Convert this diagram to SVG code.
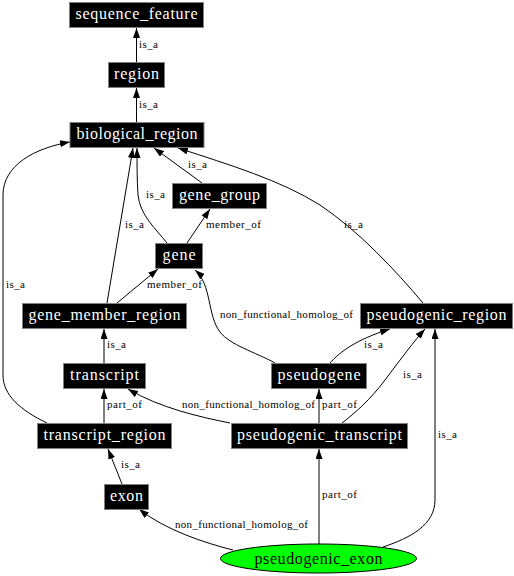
<svg xmlns="http://www.w3.org/2000/svg" width="514" height="576" viewBox="0 0 514 576">
<style>
.node rect{fill:#000;stroke:#808080;stroke-width:1}
.node text{fill:#fff;font-family:"Liberation Serif","Times New Roman",serif;font-size:16px;text-anchor:middle}
.edges path{fill:none;stroke:#000;stroke-width:1;marker-end:url(#arr)}
.lbl{fill:#000;font-family:"Liberation Serif","Times New Roman",serif;font-size:11px}
</style>
<defs>
<marker id="arr" markerUnits="userSpaceOnUse" markerWidth="10" markerHeight="7" refX="10" refY="3.5" orient="auto">
<path d="M0,0 L10,3.5 L0,7 z" fill="#000"/>
</marker>
</defs>
<rect x="0" y="0" width="514" height="576" fill="#fff"/>
<g class="edges" id="connectors">
<path d="M136.5,62 V28"/>
<path d="M136.5,122 V88"/>
<path d="M202,183 L154,148"/>
<path d="M423,303 C395,270 360,232 320,205 C280,180 230,165 178,148"/>
<path d="M167,243 C155,228 140,215 138,195 C137,180 137,165 137,148"/>
<path d="M47,423 C20,410 3,395 3,375 L3,195 C3,165 35,148 70,142"/>
<path d="M107,303 L133,148"/>
<path d="M187,243 L210,209"/>
<path d="M117,303 L158,269"/>
<path d="M275,363 C255,352 230,345 220,332 C207,315 212,285 195,270"/>
<path d="M330,363 C340,352 355,340 390,329"/>
<path d="M104,363 V329"/>
<path d="M104,423 V389"/>
<path d="M230,423 C200,417 160,408 128,389"/>
<path d="M319,423 V389"/>
<path d="M342,423 C355,413 370,400 385,380 C400,360 415,340 425,329"/>
<path d="M122,484 L108,449"/>
<path d="M233,550 C205,543 165,530 139,509"/>
<path d="M319,544 V449"/>
<path d="M383,547 C410,538 435,525 435,500 L435,329"/>
</g>
<g id="edge-labels">
<text class="lbl" x="139" y="48" textLength="19" lengthAdjust="spacing">is_a</text>
<text class="lbl" x="139" y="108" textLength="19" lengthAdjust="spacing">is_a</text>
<text class="lbl" x="188" y="168" textLength="19" lengthAdjust="spacing">is_a</text>
<text class="lbl" x="146" y="198" textLength="19" lengthAdjust="spacing">is_a</text>
<text class="lbl" x="125" y="228" textLength="19" lengthAdjust="spacing">is_a</text>
<text class="lbl" x="344" y="228" textLength="19" lengthAdjust="spacing">is_a</text>
<text class="lbl" x="6" y="288" textLength="19" lengthAdjust="spacing">is_a</text>
<text class="lbl" x="206" y="228" textLength="55" lengthAdjust="spacing">member_of</text>
<text class="lbl" x="147" y="288" textLength="55" lengthAdjust="spacing">member_of</text>
<text class="lbl" x="220" y="318" textLength="133" lengthAdjust="spacing">non_functional_homolog_of</text>
<text class="lbl" x="364" y="348" textLength="19" lengthAdjust="spacing">is_a</text>
<text class="lbl" x="107" y="348" textLength="19" lengthAdjust="spacing">is_a</text>
<text class="lbl" x="403" y="378" textLength="19" lengthAdjust="spacing">is_a</text>
<text class="lbl" x="107" y="408" textLength="35" lengthAdjust="spacing">part_of</text>
<text class="lbl" x="182" y="408" textLength="133" lengthAdjust="spacing">non_functional_homolog_of</text>
<text class="lbl" x="322" y="408" textLength="35" lengthAdjust="spacing">part_of</text>
<text class="lbl" x="438" y="438" textLength="19" lengthAdjust="spacing">is_a</text>
<text class="lbl" x="121" y="468" textLength="19" lengthAdjust="spacing">is_a</text>
<text class="lbl" x="322" y="498" textLength="35" lengthAdjust="spacing">part_of</text>
<text class="lbl" x="175" y="528" textLength="133" lengthAdjust="spacing">non_functional_homolog_of</text>
</g>
<g class="node" id="sequence_feature"><rect x="69.5" y="2.5" width="134" height="25"/><text x="136.5" y="19" textLength="122" lengthAdjust="spacing">sequence_feature</text></g>
<g class="node" id="region"><rect x="108.5" y="62.5" width="56" height="25"/><text x="136.5" y="79" textLength="45" lengthAdjust="spacing">region</text></g>
<g class="node" id="biological_region"><rect x="70" y="122.5" width="134" height="25"/><text x="137" y="139" textLength="121" lengthAdjust="spacing">biological_region</text></g>
<g class="node" id="gene_group"><rect x="172.5" y="183.5" width="94" height="25"/><text x="219.5" y="200" textLength="81" lengthAdjust="spacing">gene_group</text></g>
<g class="node" id="gene"><rect x="155.5" y="243.5" width="47" height="25"/><text x="179" y="260" textLength="33" lengthAdjust="spacing">gene</text></g>
<g class="node" id="pseudogenic_region"><rect x="360.5" y="303.5" width="152" height="25"/><text x="436.5" y="320" textLength="140" lengthAdjust="spacing">pseudogenic_region</text></g>
<g class="node" id="gene_member_region"><rect x="22.5" y="303.5" width="164" height="25"/><text x="104.5" y="320" textLength="152" lengthAdjust="spacing">gene_member_region</text></g>
<g class="node" id="transcript"><rect x="63.5" y="363.5" width="82" height="25"/><text x="104.5" y="380" textLength="69" lengthAdjust="spacing">transcript</text></g>
<g class="node" id="pseudogene"><rect x="271.5" y="363.5" width="95" height="25"/><text x="319" y="380" textLength="83" lengthAdjust="spacing">pseudogene</text></g>
<g class="node" id="transcript_region"><rect x="37.5" y="423.5" width="134" height="25"/><text x="104.5" y="440" textLength="122" lengthAdjust="spacing">transcript_region</text></g>
<g class="node" id="pseudogenic_transcript"><rect x="231.5" y="423.5" width="176" height="25"/><text x="319.5" y="440" textLength="165" lengthAdjust="spacing">pseudogenic_transcript</text></g>
<g class="node" id="exon"><rect x="104.5" y="484.5" width="44" height="25"/><text x="126.5" y="501" textLength="33" lengthAdjust="spacing">exon</text></g>
<g id="pseudogenic_exon"><ellipse cx="318.5" cy="558.5" rx="98" ry="14.5" fill="#00ff00" stroke="#000" stroke-width="1"/><text x="318.5" y="563.5" font-family="Liberation Serif, Times New Roman, serif" font-size="16" text-anchor="middle" fill="#000" textLength="128" lengthAdjust="spacing">pseudogenic_exon</text></g>
</svg>
